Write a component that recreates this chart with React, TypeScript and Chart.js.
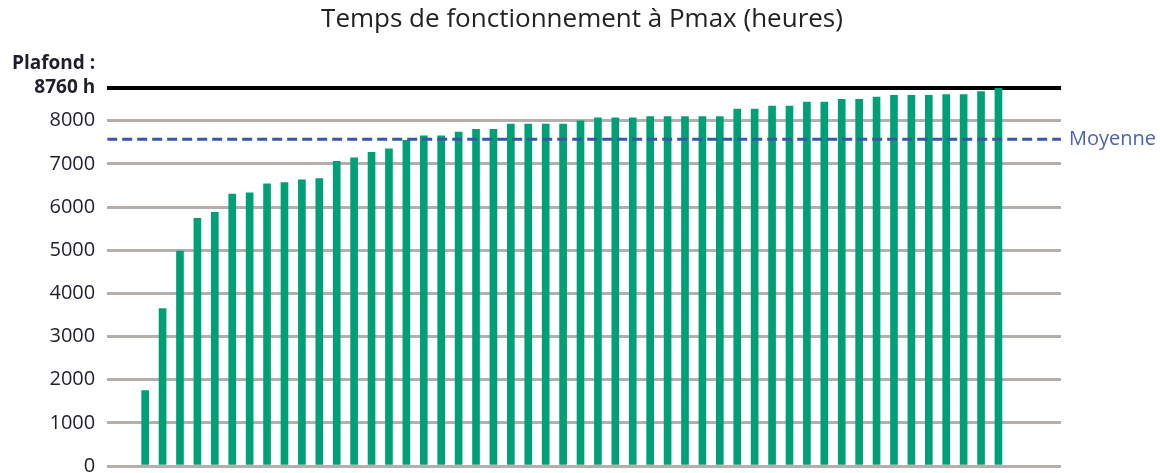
import React, { useEffect, useRef } from "react";
import { Chart, registerables } from "chart.js";

Chart.register(...registerables);

const TITLE = "Temps de fonctionnement à Pmax (heures)";
const CEILING = 8760;
const MEAN = 7570;
const MEAN_LABEL = "Moyenne";
const CEILING_LABEL = ["Plafond :", "8760 h", ""];
const Y_TICKS = [0, 1000, 2000, 3000, 4000, 5000, 6000, 7000, 8000, 8760];

// 50 sites, sorted ascending (heures à Pmax)
const HOURS = [
  1750, 3650, 4980, 5740, 5880, 6300, 6330, 6540, 6570, 6630,
  6660, 7060, 7140, 7270, 7350, 7550, 7650, 7650, 7740, 7800,
  7800, 7925, 7925, 7925, 7925, 8000, 8070, 8070, 8070, 8100,
  8100, 8100, 8100, 8100, 8270, 8270, 8340, 8340, 8435, 8435,
  8500, 8500, 8550, 8590, 8590, 8590, 8610, 8610, 8675, 8760,
];
const SITES = HOURS.map((_, i) => i + 1);

const X_MIN = -1.18;
const X_MAX = 53.59;

const FONT = "'Open Sans', 'DejaVu Sans', sans-serif";

export default function App() {
  const ref = useRef<HTMLCanvasElement | null>(null);

  useEffect(() => {
    document.body.style.margin = "0";
    document.body.style.overflow = "hidden";
    const ctx = ref.current!.getContext("2d")!;
    const chart = new Chart(ctx, {
      type: "bar",
      data: {
        datasets: [
          {
            type: "line",
            label: MEAN_LABEL,
            data: [
              { x: X_MIN, y: MEAN },
              { x: X_MAX, y: MEAN },
            ],
            borderColor: "#3a55ab",
            borderWidth: 3,
            borderDash: [10, 5],
            pointRadius: 0,
            order: 0,
            yAxisID: "y",
          } as any,
          {
            type: "bar",
            label: "Heures",
            data: SITES.map((s, i) => ({ x: s, y: HOURS[i] })),
            backgroundColor: "#00a077",
            barThickness: 7,
            order: 1,
            yAxisID: "y",
          } as any,
        ],
      },
      options: {
        animation: false,
        responsive: true,
        maintainAspectRatio: false,
        layout: { padding: { left: 0, right: 0, top: 0, bottom: 0 } },
        plugins: {
          legend: { display: false },
          tooltip: { enabled: false },
          title: {
            display: true,
            text: TITLE,
            color: "#222222",
            font: { family: FONT, size: 26, weight: "normal" },
            padding: { top: 4.4, bottom: 52.4 },
          },
        },
        scales: {
          x: {
            type: "linear",
            min: X_MIN,
            max: X_MAX,
            offset: false,
            display: false,
          },
          y: {
            type: "linear",
            position: "left",
            min: 0,
            max: CEILING,
            afterBuildTicks: (scale: any) => {
              scale.ticks = Y_TICKS.map((v) => ({ value: v }));
            },
            ticks: {
              autoSkip: false,
              padding: 12,
              color: "#1e1f2a",
              font: (c: any) =>
                c.tick && c.tick.value === CEILING
                  ? { family: FONT, size: 19, weight: "bold", lineHeight: 1.3 }
                  : { family: FONT, size: 20, weight: "normal", lineHeight: 1.2 },
              callback: (v: any) => (v === CEILING ? CEILING_LABEL : String(v)),
            },
            grid: {
              drawTicks: false,
              color: (c: any) => (c.tick && c.tick.value === CEILING ? "#000000" : "#b5afac"),
              lineWidth: (c: any) => (c.tick && c.tick.value === CEILING ? 4 : 3),
            },
            border: { display: false },
          },
          y2: {
            type: "linear",
            position: "right",
            min: 0,
            max: CEILING,
            afterBuildTicks: (scale: any) => {
              scale.ticks = [{ value: MEAN }];
            },
            ticks: {
              autoSkip: false,
              padding: 8,
              color: "#4a63b8",
              font: { family: FONT, size: 20, weight: "normal" },
              callback: () => MEAN_LABEL,
            },
            grid: { display: false, drawTicks: false },
            border: { display: false },
          },
        },
      } as any,
    });
    return () => chart.destroy();
  }, []);

  return (
    <div style={{ position: "absolute", left: 0, top: 0, width: 1164, height: 490 }}>
      <canvas ref={ref} />
    </div>
  );
}
